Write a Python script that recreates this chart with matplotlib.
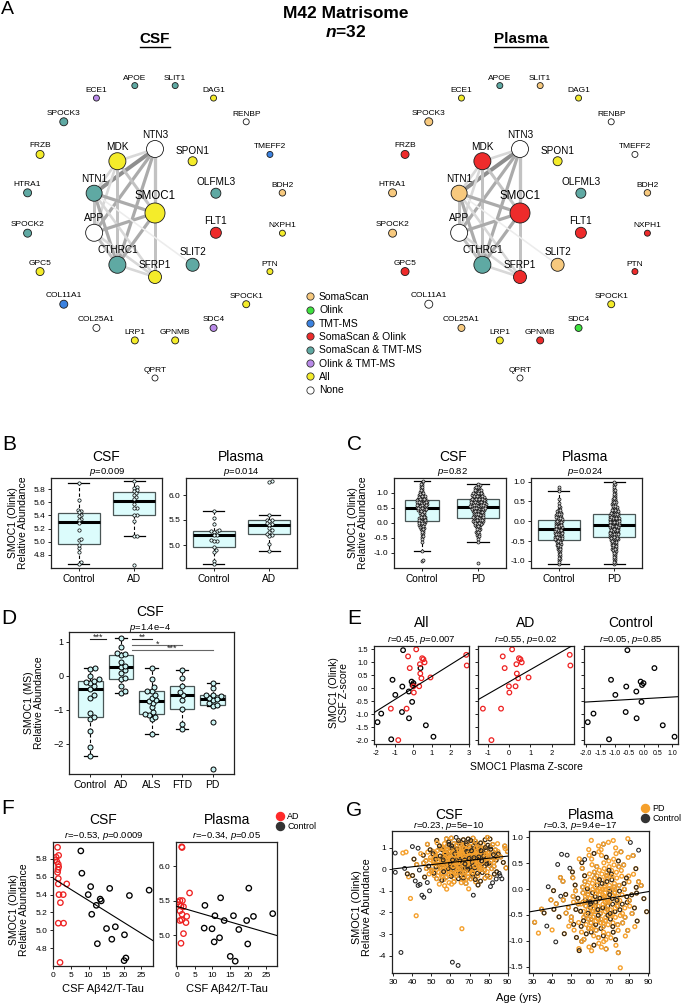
import numpy as np
import matplotlib.pyplot as plt
from matplotlib.lines import Line2D

plt.rcParams['font.family'] = ['Liberation Sans', 'DejaVu Sans']
plt.rcParams['axes.unicode_minus'] = False
plt.rcParams['mathtext.fontset'] = 'custom'
plt.rcParams['mathtext.rm'] = 'Liberation Sans'
plt.rcParams['mathtext.it'] = 'Liberation Sans:italic'
plt.rcParams['mathtext.bf'] = 'Liberation Sans:bold'
plt.rcParams['mathtext.bfit'] = 'Liberation Sans:italic:bold'

# ---------------- data ----------------
# network A: genes, node size (px) and detection category per fluid
outer_genes = ['SLIT1', 'DAG1', 'RENBP', 'TMEFF2', 'BDH2', 'NXPH1', 'PTN', 'SPOCK1', 'SDC4', 'GPNMB',
               'LRP1', 'COL25A1', 'COL11A1', 'GPC5', 'SPOCK2', 'HTRA1', 'FRZB', 'SPOCK3', 'ECE1', 'APOE']
inner_genes = ['NTN3', 'SPON1', 'OLFML3', 'FLT1', 'SLIT2', 'SFRP1', 'CTHRC1', 'APP', 'NTN1', 'MDK']
hub_gene = 'SMOC1'
far_gene = 'QPRT'

node_size = {'SMOC1': 20, 'NTN3': 17, 'MDK': 17, 'NTN1': 16, 'APP': 17, 'CTHRC1': 17, 'SFRP1': 13,
             'SLIT2': 13, 'FLT1': 11, 'OLFML3': 10, 'SPON1': 9, 'SPOCK3': 8, 'HTRA1': 8, 'SPOCK2': 8,
             'FRZB': 8, 'GPC5': 8, 'COL11A1': 8, 'COL25A1': 7, 'LRP1': 7, 'GPNMB': 7, 'SDC4': 7,
             'SPOCK1': 7, 'PTN': 6, 'NXPH1': 6, 'BDH2': 6.5, 'TMEFF2': 6, 'RENBP': 6, 'DAG1': 6,
             'SLIT1': 6, 'APOE': 6, 'ECE1': 6, 'QPRT': 6}

csf_cat = {'SLIT1': 'SomaScan & TMT-MS', 'DAG1': 'All', 'RENBP': 'None', 'TMEFF2': 'TMT-MS',
           'BDH2': 'SomaScan', 'NXPH1': 'All', 'PTN': 'All', 'SPOCK1': 'All', 'SDC4': 'Olink & TMT-MS',
           'GPNMB': 'All', 'LRP1': 'All', 'COL25A1': 'None', 'COL11A1': 'TMT-MS', 'GPC5': 'All',
           'SPOCK2': 'SomaScan & TMT-MS', 'HTRA1': 'SomaScan & TMT-MS', 'FRZB': 'All',
           'SPOCK3': 'SomaScan & TMT-MS', 'ECE1': 'Olink & TMT-MS', 'APOE': 'SomaScan & TMT-MS',
           'NTN3': 'None', 'SPON1': 'All', 'OLFML3': 'SomaScan & TMT-MS', 'FLT1': 'SomaScan & Olink',
           'SLIT2': 'SomaScan & TMT-MS', 'SFRP1': 'All', 'CTHRC1': 'SomaScan & TMT-MS', 'APP': 'None',
           'NTN1': 'SomaScan & TMT-MS', 'MDK': 'All', 'SMOC1': 'All', 'QPRT': 'None'}
plasma_cat = {'SLIT1': 'SomaScan', 'DAG1': 'All', 'RENBP': 'None', 'TMEFF2': 'None',
              'BDH2': 'SomaScan', 'NXPH1': 'SomaScan & Olink', 'PTN': 'SomaScan & Olink', 'SPOCK1': 'All',
              'SDC4': 'Olink', 'GPNMB': 'SomaScan & Olink', 'LRP1': 'All', 'COL25A1': 'SomaScan',
              'COL11A1': 'None', 'GPC5': 'SomaScan & Olink', 'SPOCK2': 'SomaScan', 'HTRA1': 'SomaScan',
              'FRZB': 'SomaScan & Olink', 'SPOCK3': 'SomaScan', 'ECE1': 'All', 'APOE': 'SomaScan & TMT-MS',
              'NTN3': 'None', 'SPON1': 'All', 'OLFML3': 'SomaScan & TMT-MS', 'FLT1': 'SomaScan & Olink',
              'SLIT2': 'SomaScan', 'SFRP1': 'SomaScan & Olink', 'CTHRC1': 'SomaScan & TMT-MS', 'APP': 'None',
              'NTN1': 'SomaScan', 'MDK': 'SomaScan & Olink', 'SMOC1': 'SomaScan & Olink', 'QPRT': 'None'}

edge_from = ['NTN3', 'NTN3', 'NTN3', 'NTN3', 'NTN3', 'NTN3', 'MDK', 'MDK', 'MDK', 'MDK', 'NTN1', 'NTN1',
             'NTN1', 'NTN1', 'APP', 'APP', 'APP', 'SMOC1', 'SMOC1', 'CTHRC1', 'NTN1']
edge_to = ['NTN1', 'MDK', 'SMOC1', 'APP', 'CTHRC1', 'SFRP1', 'NTN1', 'SMOC1', 'APP', 'CTHRC1', 'SMOC1', 'APP',
           'CTHRC1', 'SFRP1', 'SMOC1', 'CTHRC1', 'SFRP1', 'CTHRC1', 'SFRP1', 'SFRP1', 'SLIT2']
edge_weight = [3, 1, 2, 2, 2, 1.5, 1, 1.5, 1, 1.5, 2, 1.5, 2, 1, 2, 1.5, 1, 2, 1.5, 1, 0.5]

categories = ['SomaScan', 'Olink', 'TMT-MS', 'SomaScan & Olink', 'SomaScan & TMT-MS',
              'Olink & TMT-MS', 'All', 'None']
cat_colors = ['#f7c97e', '#3ee23e', '#3b82e0', '#ee2b2b', '#5fa9a3', '#b98ae8', '#f4ec2a', '#ffffff']

# B / F: SMOC1 (Olink) and CSF Ab42/T-Tau ratio
csf_ctl_ratio = [7.8, 8.1, 10.6, 9.9, 16.0, 13.3, 13.6, 12.2, 10.9, 15.1, 17.6, 16.6, 20.2, 12.5, 21.6, 27.2, 20.6, 20.1]
csf_ctl_smoc1 = [5.89, 5.64, 5.49, 5.40, 5.47, 5.35, 5.33, 5.28, 5.18, 5.02, 5.04, 4.90, 4.95, 4.85, 5.39, 5.45, 4.69, 4.66]
csf_ad_ratio = [1.2, 0.8, 1.5, 0.5, 1.0, 1.4, 1.5, 1.3, 1.2, 1.4, 1.4, 3.8, 1.6, 2.8, 2.0, 1.4, 2.9, 1.9]
csf_ad_smoc1 = [5.93, 5.82, 5.84, 5.79, 5.77, 5.74, 5.71, 5.68, 5.65, 5.58, 5.52, 5.52, 5.40, 5.40, 5.31, 5.08, 5.08, 4.64]
pl_ctl_ratio = [7.9, 12.3, 20.2, 10.7, 13.3, 15.9, 21.5, 26.9, 19.6, 7.7, 9.9, 17.4, 10.5, 12.0, 19.9, 15.0, 16.4]
pl_ctl_smoc1 = [5.43, 5.54, 5.68, 5.28, 5.21, 5.28, 5.27, 5.31, 5.21, 5.10, 5.09, 5.08, 4.90, 4.96, 4.87, 4.69, 4.62]
pl_ad_ratio = [1.4, 1.5, 3.6, 0.9, 1.6, 0.3, 0.7, 1.2, 1.9, 0.9, 1.5, 2.8, 1.4, 0.9, 2.6, 1.9, 1.2]
pl_ad_smoc1 = [6.28, 6.27, 5.61, 5.50, 5.50, 5.48, 5.44, 5.42, 5.41, 5.35, 5.30, 5.27, 5.22, 5.21, 5.18, 5.02, 4.88]

# C: PD cohort, counts of samples per 0.1 bin (bin centres listed)
c_csf_bins = [1.35, 1.25, 1.15, 1.05, 0.95, 0.85, 0.75, 0.65, 0.55, 0.45, 0.35, 0.25, 0.15, 0.05, -0.05,
              -0.15, -0.25, -0.35, -0.45, -0.55, -0.65, -0.75, -0.85, -0.95, -1.05, -1.15, -1.25, -1.35]
c_csf_ctl_n = [2, 3, 3, 4, 6, 8, 11, 12, 12, 10, 6, 5, 8, 9, 7, 5, 3, 3, 2, 1, 1, 0, 0, 1, 0, 0, 2, 0]
c_csf_pd_n = [0, 4, 6, 9, 12, 15, 17, 18, 18, 16, 12, 11, 12, 12, 8, 5, 4, 4, 2, 1, 1, 0, 0, 0, 0, 0, 0, 1]
c_pl_bins = [0.95, 0.85, 0.75, 0.65, 0.55, 0.45, 0.35, 0.25, 0.15, 0.05, -0.05, -0.15, -0.25, -0.35,
             -0.45, -0.55, -0.65, -0.75, -0.85, -0.95, -1.05]
c_pl_ctl_n = [0, 2, 1, 0, 1, 1, 3, 6, 9, 10, 11, 12, 12, 11, 10, 7, 6, 4, 3, 3, 2]
c_pl_pd_n = [3, 2, 3, 4, 5, 6, 8, 11, 13, 17, 17, 14, 15, 13, 11, 9, 7, 6, 4, 4, 3]

# D: SMOC1 (MS) in CSF across diagnoses
d_groups = ['Control', 'AD', 'ALS', 'FTD', 'PD']
d_control = [-2.37, -2.1, -1.62, -1.28, -1.2, -1.08, -0.66, -0.57, -0.38, -0.29, -0.21, -0.18, -0.15, -0.1, 0.0, 0.2, 0.22]
d_ad = [-0.51, -0.45, -0.29, -0.1, -0.06, 0.08, 0.16, 0.25, 0.3, 0.4, 0.6, 0.63, 0.67, 0.86, 1.1]
d_als = [-1.72, -1.27, -1.2, -1.15, -1.12, -1.06, -0.93, -0.8, -0.75, -0.72, -0.64, -0.55, -0.45, -0.44, -0.34, -0.1, 0.22]
d_ftd = [-1.58, -1.42, -0.98, -0.7, -0.57, -0.48, -0.3, -0.05, 0.17]
d_pd = [-2.75, -1.37, -0.88, -0.86, -0.8, -0.72, -0.68, -0.65, -0.6, -0.56, -0.55, -0.35, -0.2]
sig_from = [1.0, 2.37, 2.37, 2.37]
sig_to = [1.5, 3.0, 4.0, 5.0]
sig_y = [1.08, 1.08, 0.9, 0.76]
sig_label = ['***', '**', '*', '***']

# E: plasma vs CSF z-scores
e_ad_plasma = [0.15, -0.29, -0.2, 0.54, 0.47, 0.6, 0.35, 0.37, 0.43, 0.92, 0.31, 0.0, 0.02, -1.22, -0.37, -0.82, 2.85, 2.88]
e_ad_csf = [1.49, 1.22, 0.77, 1.11, 1.15, 0.99, 0.92, 0.56, 0.38, 0.41, 0.07, 0.07, -0.17, -0.79, -0.79, -2.0, 1.28, 0.87]
e_ctl_plasma = [-1.94, -1.74, -1.13, -0.98, -1.2, -0.56, -0.6, -0.62, -0.25, -0.24, -0.1, 0.0, -0.05, -0.07, 0.38, 0.67, 1.08]
e_ctl_csf = [-1.31, -0.98, 0.32, -0.26, -1.97, 1.46, 0.06, -0.92, -0.13, -1.16, 0.25, 0.19, 0.12, -0.53, 0.77, -1.43, -1.87]

# G: SMOC1 vs age, counts per 5-yr x 0.25 cell (rows top -> bottom)
g_age_edges = [30, 35, 40, 45, 50, 55, 60, 65, 70, 75, 80, 85]
g_csf_val_edges = [1.25, 1.0, 0.75, 0.5, 0.25, 0.0, -0.25, -0.5, -0.75, -1.0]
g_csf_pd = [[0, 0, 0, 0, 1, 2, 2, 3, 3, 2, 1, 0],
            [0, 0, 0, 1, 2, 4, 5, 6, 6, 4, 3, 1],
            [0, 1, 0, 2, 4, 7, 8, 9, 8, 6, 4, 2],
            [0, 0, 1, 2, 5, 8, 10, 11, 10, 7, 4, 2],
            [0, 0, 1, 3, 5, 9, 11, 12, 10, 7, 4, 1],
            [0, 0, 1, 2, 5, 8, 10, 10, 8, 6, 3, 1],
            [0, 1, 0, 2, 4, 6, 7, 7, 6, 4, 2, 0],
            [0, 0, 1, 1, 2, 4, 5, 5, 4, 2, 1, 0],
            [0, 0, 0, 0, 1, 2, 2, 3, 2, 1, 0, 0],
            [0, 0, 0, 0, 0, 1, 0, 1, 0, 0, 0, 0]]
g_csf_ctl = [[0, 0, 0, 0, 1, 2, 3, 3, 3, 2, 1, 0],
             [0, 0, 0, 1, 1, 3, 4, 5, 4, 3, 2, 1],
             [0, 0, 1, 1, 2, 4, 5, 6, 5, 4, 3, 1],
             [0, 0, 0, 1, 3, 4, 6, 6, 6, 4, 3, 2],
             [0, 0, 1, 2, 3, 5, 6, 7, 6, 4, 3, 1],
             [0, 1, 1, 2, 3, 4, 5, 6, 5, 4, 2, 1],
             [1, 1, 1, 1, 2, 3, 4, 4, 3, 3, 2, 1],
             [0, 0, 1, 1, 1, 2, 2, 3, 3, 2, 1, 1],
             [0, 0, 1, 1, 0, 1, 1, 1, 1, 1, 1, 0],
             [0, 0, 0, 0, 0, 0, 0, 0, 0, 0, 0, 0]]
g_csf_pd_age = [35, 39, 42, 66, 58, 38]
g_csf_pd_val = [0.75, -1.35, -2.15, -2.75, -0.92, -0.35]
g_csf_ctl_age = [31, 34, 61, 64, 40, 43, 44, 45, 46, 49, 72, 81, 86, 84]
g_csf_ctl_val = [0.75, -3.85, -4.3, -4.45, 1.05, -0.75, -0.7, -1.2, -1.3, -1.0, -1.2, -0.8, -0.3, -0.45]

g_pl_val_edges = [0.75, 0.5, 0.25, 0.0, -0.25, -0.5, -0.75, -1.0, -1.25]
g_pl_pd = [[0, 0, 0, 0, 0, 1, 2, 3, 2, 1, 0, 0],
           [0, 0, 0, 0, 1, 2, 3, 4, 3, 2, 1, 0],
           [0, 0, 0, 0, 1, 3, 5, 6, 5, 3, 2, 0],
           [0, 0, 1, 1, 2, 5, 7, 8, 6, 4, 2, 1],
           [0, 1, 1, 2, 3, 7, 9, 10, 8, 5, 3, 1],
           [1, 1, 2, 2, 4, 8, 10, 10, 8, 5, 3, 1],
           [1, 0, 1, 2, 3, 6, 8, 8, 6, 3, 2, 0],
           [0, 0, 1, 1, 2, 4, 5, 5, 4, 2, 0, 0],
           [0, 0, 0, 0, 1, 2, 3, 3, 2, 0, 0, 0]]
g_pl_ctl = [[0, 0, 0, 0, 0, 0, 0, 1, 0, 0, 1, 0],
            [0, 0, 0, 1, 0, 1, 1, 1, 1, 1, 1, 0],
            [0, 0, 1, 1, 1, 2, 2, 2, 2, 1, 1, 0],
            [0, 1, 1, 1, 2, 3, 3, 3, 3, 2, 2, 1],
            [0, 1, 2, 2, 3, 4, 4, 4, 4, 3, 3, 1],
            [1, 1, 2, 2, 3, 4, 5, 5, 4, 3, 2, 1],
            [1, 1, 1, 1, 2, 4, 5, 4, 3, 2, 1, 0],
            [0, 0, 0, 1, 1, 3, 3, 2, 2, 1, 0, 0],
            [0, 0, 0, 0, 1, 1, 1, 1, 1, 0, 0, 0]]
g_pl_pd_age = [75.5, 33, 54]
g_pl_pd_val = [-1.52, -0.85, -1.15]
g_pl_ctl_age = [42, 45, 57, 85]
g_pl_ctl_val = [-1.02, 0.67, 0.57, 0.75]

# ---------------- helpers ----------------
W, H = 685, 1006
fig = plt.figure(figsize=(W / 100, H / 100), dpi=100)


def add_ax(l, t, r, b):
    return fig.add_axes([l / W, 1 - b / H, (r - l) / W, (b - t) / H])


def ftext(x, y, s, **kw):
    kw.setdefault('ha', 'center')
    kw.setdefault('va', 'center')
    return fig.text(x / W, 1 - y / H, s, **kw)


def style_ax(ax, fs=6):
    for s in ax.spines.values():
        s.set_linewidth(0.9)
        s.set_color('#222222')
    ax.tick_params(length=2.5, width=0.7, labelsize=fs, pad=1.5, color='#222222')


def px_scale(ax):
    pos = ax.get_position()
    x0, x1 = ax.get_xlim()
    y0, y1 = ax.get_ylim()
    return pos.width * W / (x1 - x0), pos.height * H / (y1 - y0)


def swarm(vals, d, sx, sy):
    vals = np.asarray(vals, float)
    ys = vals * sy
    placed = []
    out = np.zeros(len(vals))
    for i in np.argsort(vals):
        y = ys[i]
        near = [(px, py) for px, py in placed if abs(py - y) < d]
        cands = [0.0]
        for px, py in near:
            dx = np.sqrt(d * d - (py - y) ** 2)
            cands += [px + dx, px - dx]
        cands.sort(key=abs)
        for c in cands:
            if all((c - px) ** 2 + (y - py) ** 2 >= d * d - 1e-6 for px, py in near):
                break
        placed.append((c, y))
        out[i] = c / sx
    return out


def expand_bins(centres, counts, step):
    vals = []
    for c, n in zip(centres, counts):
        vals += list(c - step / 2 + (np.arange(n) + 0.5) * step / max(n, 1))
    return vals


def boxswarm(ax, groups, widths, msize, mface, medge, dcoll, mlw=0.5):
    pos = np.arange(1, len(groups) + 1)
    ax.boxplot(groups, positions=pos, widths=widths, whis=1.5, patch_artist=True, showfliers=False,
               capwidths=[w * 0.5 for w in widths],
               medianprops=dict(color='black', lw=2.2),
               boxprops=dict(facecolor='#dcfcfc', edgecolor='#4a5656', lw=0.9),
               whiskerprops=dict(color='black', lw=0.8, ls=(0, (3, 2))),
               capprops=dict(color='black', lw=0.9))
    sx, sy = px_scale(ax)
    for p, g in zip(pos, groups):
        off = swarm(g, dcoll, sx, sy)
        ax.scatter(p + off, g, s=(msize * 0.72) ** 2, facecolors=mface, edgecolors=medge,
                   linewidths=mlw, zorder=3)


def cell_points(counts, age_edges, val_edges, aw, vh):
    xs, ys = [], []
    for r, row in enumerate(counts):
        for c, n in enumerate(row):
            k = np.arange(n) + r * 7 + c * 3
            fx = (0.5 + k * 0.7548776662) % 1
            fy = (0.5 + k * 0.5698402910) % 1
            xs += list(age_edges[c] + aw * fx)
            ys += list(val_edges[r] + vh * fy)
    return xs, ys


def fit_line(ax, x, y):
    a, b = np.polyfit(x, y, 1)
    x0, x1 = ax.get_xlim()
    ax.plot([x0, x1], [a * x0 + b, a * x1 + b], color='black', lw=0.8, zorder=4)


# ---------------- A: networks ----------------
net = add_ax(0, 0, 685, 405)
net.set_xlim(0, 685)
net.set_ylim(405, 0)
net.axis('off')
cmap = dict(zip(categories, cat_colors))


def layout(cx, cy):
    p = {hub_gene: (cx, cy), far_gene: (cx, cy + 165)}
    a = np.deg2rad(9 + 18 * np.arange(len(outer_genes)))
    for g, ang in zip(outer_genes, a):
        p[g] = (cx + 129 * np.sin(ang), cy - 129 * np.cos(ang))
    a = np.deg2rad(36 * np.arange(len(inner_genes)))
    for g, ang in zip(inner_genes, a):
        p[g] = (cx + 64 * np.sin(ang), cy - 64 * np.cos(ang))
    return p


edge_col = {3: '#8e8e8e', 2: '#ababab', 1.5: '#c2c2c2', 1: '#d8d8d8', 0.5: '#ececec'}
edge_lw = {3: 4.0, 2: 3.2, 1.5: 3.0, 1: 2.6, 0.5: 1.6}

for cx, cat in [(155, csf_cat), (520, plasma_cat)]:
    p = layout(cx, 213)
    for a, b, w in zip(edge_from, edge_to, edge_weight):
        net.plot([p[a][0], p[b][0]], [p[a][1], p[b][1]], color=edge_col[w], lw=edge_lw[w] * 0.72,
                 solid_capstyle='round', zorder=1)
    genes = list(p.keys())
    net.scatter([p[g][0] for g in genes], [p[g][1] for g in genes],
                s=[(node_size[g] * 0.72) ** 2 for g in genes],
                c=[cmap[cat[g]] for g in genes], edgecolors='#1a1a1a', linewidths=0.6, zorder=3)
    for g in genes:
        fs = 8.3 if g == hub_gene else (7.2 if g in inner_genes else 6.0)
        net.text(p[g][0], p[g][1] - node_size[g] / 2 - 1.0, g, ha='center', va='bottom', fontsize=fs,
                 zorder=4)

ftext(7.5, 10, 'A', fontsize=14)
ftext(346, 14, 'M42 Matrisome', fontsize=12.5, weight='bold')
ftext(346, 32, r'$\mathbfit{n}$=32', fontsize=12.5, weight='bold')
t_csf = ftext(155, 39, 'CSF', fontsize=11, weight='bold')
t_pl = ftext(521, 39, 'Plasma', fontsize=11, weight='bold')

handles = [Line2D([], [], marker='o', ls='', markerfacecolor=c, markeredgecolor='#333333',
                  markeredgewidth=0.6, markersize=5.2) for c in cat_colors]
fig.legend(handles, categories, loc='upper left', bbox_to_anchor=(306 / W, 1 - 292 / H), frameon=False,
           fontsize=7.5, handlelength=0.8, handletextpad=0.45, labelspacing=0.32, borderpad=0,
           borderaxespad=0)

# ---------------- B ----------------
ylab = 'SMOC1 (Olink)\nRelative Abundance'
ftext(9, 445, 'B', fontsize=15)
axb1 = add_ax(51, 478, 162, 568)
axb1.set_xlim(0.5, 2.5)
axb1.set_ylim(4.60, 5.97)
boxswarm(axb1, [csf_ctl_smoc1, csf_ad_smoc1], [0.76, 0.76], 3.3, '#e9ffff', 'black', 2.8)
axb1.set_yticks(np.arange(4.8, 5.81, 0.2))
axb1.set_yticklabels(['%.1f' % v for v in np.arange(4.8, 5.81, 0.2)])
axb2 = add_ax(186, 478, 297, 568)
axb2.set_xlim(0.5, 2.5)
axb2.set_ylim(4.54, 6.34)
boxswarm(axb2, [pl_ctl_smoc1, pl_ad_smoc1], [0.76, 0.76], 3.3, '#e9ffff', 'black', 2.8)
axb2.set_yticks([5.0, 5.5, 6.0])
axb2.set_yticklabels(['5.0', '5.5', '6.0'])
for ax, lab in [(axb1, ['Control', 'AD']), (axb2, ['Control', 'AD'])]:
    style_ax(ax)
    ax.set_xticks([1, 2])
    ax.set_xticklabels(lab, fontsize=7.3)
ftext(18, 523, ylab, rotation=90, fontsize=7.5, linespacing=1.05)
ftext(106.5, 457, 'CSF', fontsize=10)
ftext(241.5, 457, 'Plasma', fontsize=10)
ftext(107, 472.5, '$p$=0.009', fontsize=6.8)
ftext(241, 472.5, '$p$=0.014', fontsize=6.8)

# ---------------- C ----------------
ftext(355, 445, 'C', fontsize=15)
axc1 = add_ax(394, 478, 506, 568)
axc1.set_xlim(0.5, 2.5)
axc1.set_ylim(-1.5, 1.49)
boxswarm(axc1, [expand_bins(c_csf_bins, c_csf_ctl_n, 0.1), expand_bins(c_csf_bins, c_csf_pd_n, 0.1)],
         [0.6, 0.76], 3.0, '#d4d4d4', '#111111', 1.6)
axc2 = add_ax(531, 478, 642, 568)
axc2.set_xlim(0.5, 2.5)
axc2.set_ylim(-1.18, 1.09)
boxswarm(axc2, [expand_bins(c_pl_bins, c_pl_ctl_n, 0.1), expand_bins(c_pl_bins, c_pl_pd_n, 0.1)],
         [0.76, 0.76], 3.0, '#d4d4d4', '#111111', 1.6)
for ax in (axc1, axc2):
    style_ax(ax)
    ax.set_yticks([-1.0, -0.5, 0.0, 0.5, 1.0])
    ax.set_yticklabels(['-1.0', '-0.5', '0.0', '0.5', '1.0'])
    ax.set_xticks([1, 2])
    ax.set_xticklabels(['Control', 'PD'], fontsize=7.3)
ftext(358, 523, ylab, rotation=90, fontsize=7.5, linespacing=1.05)
ftext(453, 457, 'CSF', fontsize=10)
ftext(585, 457, 'Plasma', fontsize=10)
ftext(453, 472.5, '$p$=0.82', fontsize=6.8)
ftext(585, 472.5, '$p$=0.024', fontsize=6.8)

# ---------------- D ----------------
ftext(9, 618, 'D', fontsize=15)
axd = add_ax(69, 632, 234, 774)
axd.set_xlim(0.3, 5.7)
axd.set_ylim(-2.89, 1.29)
boxswarm(axd, [d_control, d_ad, d_als, d_ftd, d_pd], [0.8] * 5, 5.0, '#c9f2f2', 'black', 4.6, mlw=0.7)
style_ax(axd, 6.5)
axd.set_yticks([-2, -1, 0, 1])
axd.set_yticklabels(['\u22122', '\u22121', '0', '1'])
axd.set_xticks(np.arange(1, 6))
axd.set_xticklabels(d_groups, fontsize=7.5)
for x0, x1, y, lab, i in zip(sig_from, sig_to, sig_y, sig_label, range(4)):
    col = '#222222' if i < 2 else '#666666'
    axd.plot([x0, x1], [y, y], color=col, lw=0.8)
    axd.text((x0 + x1) / 2, y - 0.09, lab, ha='center', va='bottom', fontsize=6.5, color='#222222')
ftext(34, 703, 'SMOC1 (MS)\nRelative Abundance', rotation=90, fontsize=7.5, linespacing=1.05)
ftext(150, 612.5, 'CSF', fontsize=10)
ftext(150, 627.5, '$p$=1.4e\u22124', fontsize=6.8)

# ---------------- E ----------------
red = '#ee2222'
ftext(354, 618, 'E', fontsize=15)
axe1 = add_ax(374, 646, 469, 744)
axe2 = add_ax(478, 646, 574, 744)
axe3 = add_ax(584, 646, 678, 744)
axe1.set_xlim(-2.13, 3.0)
axe2.set_xlim(-1.45, 3.05)
axe3.set_xlim(-2.07, 1.2)
for ax in (axe1, axe2, axe3):
    ax.set_ylim(-2.15, 1.62)
    style_ax(ax, 5.5)
    ax.set_yticks(np.arange(-2.0, 1.51, 0.5))
s_e = (4.6 * 0.72) ** 2
axe1.scatter(e_ctl_plasma, e_ctl_csf, s=s_e, facecolors='none', edgecolors='black', linewidths=0.9)
axe1.scatter(e_ad_plasma, e_ad_csf, s=s_e, facecolors='none', edgecolors=red, linewidths=0.9)
fit_line(axe1, e_ctl_plasma + e_ad_plasma, e_ctl_csf + e_ad_csf)
axe2.scatter(e_ad_plasma, e_ad_csf, s=s_e, facecolors='none', edgecolors=red, linewidths=0.9)
fit_line(axe2, e_ad_plasma, e_ad_csf)
axe3.scatter(e_ctl_plasma, e_ctl_csf, s=s_e, facecolors='none', edgecolors='black', linewidths=0.9)
fit_line(axe3, e_ctl_plasma, e_ctl_csf)
axe1.set_yticklabels(['%.1f' % v for v in np.arange(-2.0, 1.51, 0.5)])
axe2.set_yticklabels([])
axe3.set_yticklabels([])
axe1.set_xticks([-2, -1, 0, 1, 2, 3])
axe2.set_xticks([-1, 0, 1, 2])
axe3.set_xticks([-2.0, -1.5, -1.0, -0.5, 0.0, 0.5, 1.0])
axe3.set_xticklabels(['-2.0', '-1.5', '-1.0', '-0.5', '0.0', '0.5', '1.0'], fontsize=5)
ftext(339, 693, 'SMOC1 (Olink)\nCSF Z-score', rotation=90, fontsize=7.5, linespacing=1.05)
ftext(526.5, 767, 'SMOC1 Plasma Z-score', fontsize=7.5)
for x, t, st in [(421.5, 'All', '$r$=0.45, $p$=0.007'), (526, 'AD', '$r$=0.55, $p$=0.02'),
                 (631, 'Control', '$r$=0.05, $p$=0.85')]:
    ftext(x, 623, t, fontsize=10)
    ftext(x, 639.5, st, fontsize=6.8)

# ---------------- F ----------------
ftext(8, 808, 'F', fontsize=15)
axf1 = add_ax(53, 842, 153, 966)
axf2 = add_ax(176, 842, 277, 966)
axf1.set_xlim(-0.1, 28.3)
axf1.set_ylim(4.60, 5.99)
axf2.set_xlim(-0.2, 28.1)
axf2.set_ylim(4.55, 6.35)
s_f = (5.4 * 0.72) ** 2
for ax, cr, cy, ar, ay in [(axf1, csf_ctl_ratio, csf_ctl_smoc1, csf_ad_ratio, csf_ad_smoc1),
                           (axf2, pl_ctl_ratio, pl_ctl_smoc1, pl_ad_ratio, pl_ad_smoc1)]:
    style_ax(ax, 6)
    ax.scatter(cr, cy, s=s_f, facecolors='none', edgecolors='black', linewidths=0.95)
    ax.scatter(ar, ay, s=s_f, facecolors='none', edgecolors=red, linewidths=0.95)
    fit_line(ax, cr + ar, cy + ay)
    ax.set_xticks(np.arange(0, 26, 5))
axf1.set_yticks(np.arange(4.8, 5.81, 0.2))
axf1.set_yticklabels(['%.1f' % v for v in np.arange(4.8, 5.81, 0.2)])
axf2.set_yticks([5.0, 5.5, 6.0])
axf2.set_yticklabels(['5.0', '5.5', '6.0'])
ftext(19, 910, ylab, rotation=90, fontsize=7.5, linespacing=1.05)
ftext(103, 819.5, 'CSF', fontsize=10)
ftext(227, 819.5, 'Plasma', fontsize=10)
ftext(104, 836.5, '$r$=\u22120.53, $p$=0.0009', fontsize=6.8)
ftext(226, 836.5, '$r$=\u22120.34, $p$=0.05', fontsize=6.8)
ftext(103, 988.5, 'CSF A\u03b242/T-Tau', fontsize=8)
ftext(227, 988.5, 'CSF A\u03b242/T-Tau', fontsize=8)
fh = [Line2D([], [], marker='o', ls='', color=c, markersize=5.8) for c in ['#ff2a2a', '#333333']]
fig.legend(fh, ['AD', 'Control'], loc='upper left', bbox_to_anchor=(276 / W, 1 - 812 / H), frameon=False,
           fontsize=6.5, handlelength=0.9, handletextpad=0.35, labelspacing=0.15, borderpad=0,
           borderaxespad=0)

# ---------------- G ----------------
orange = '#f5a02c'
ftext(354, 810, 'G', fontsize=15)
axg1 = add_ax(392, 831, 508, 973)
axg2 = add_ax(529, 831, 649, 973)
axg1.set_xlim(29.3, 90.2)
axg1.set_ylim(-4.8, 1.77)
axg2.set_xlim(28.1, 90.4)
axg2.set_ylim(-1.62, 1.12)
s_g = (3.8 * 0.72) ** 2
for ax, ve, vh, pdc, ctc, pa, pv, ca, cv in [
        (axg1, g_csf_val_edges, 0.25, g_csf_pd, g_csf_ctl, g_csf_pd_age, g_csf_pd_val, g_csf_ctl_age, g_csf_ctl_val),
        (axg2, g_pl_val_edges, 0.25, g_pl_pd, g_pl_ctl, g_pl_pd_age, g_pl_pd_val, g_pl_ctl_age, g_pl_ctl_val)]:
    style_ax(ax, 6)
    px_, py_ = cell_points(pdc, g_age_edges, ve, 5, vh)
    cx_, cy_ = cell_points(ctc, g_age_edges, ve, 5, vh)
    px_ += pa
    py_ += pv
    cx_ += ca
    cy_ += cv
    # draw both groups in one shuffled layer so neither hides the other
    xs = np.array(px_ + cx_)
    ys = np.array(py_ + cy_)
    cols = [orange] * len(px_) + ['#222222'] * len(cx_)
    lws = [1.0] * len(px_) + [0.75] * len(cx_)
    key = np.concatenate([(np.arange(len(px_)) * 0.6180339887) % 1,
                          (np.arange(len(cx_)) * 0.4142135624 + 0.3) % 1])
    order = np.argsort(key, kind='stable')
    ax.scatter(xs[order], ys[order], s=s_g, facecolors='none', edgecolors=[cols[i] for i in order],
               linewidths=[lws[i] for i in order], zorder=2)
    fit_line(ax, xs, ys)
    ax.set_xticks(np.arange(30, 91, 10))
axg1.set_yticks([-4, -3, -2, -1, 0, 1])
axg2.set_yticks([-1.5, -1.0, -0.5, 0.0, 0.5, 1.0])
axg2.set_yticklabels(['-1.5', '-1.0', '-0.5', '0.0', '0.5', '1.0'])
ftext(362, 907, ylab, rotation=90, fontsize=7.8, linespacing=1.05)
ftext(449, 815, 'CSF', fontsize=10)
ftext(591, 815, 'Plasma', fontsize=10)
ftext(449, 826.5, '$r$=0.23, $p$=5e\u221210', fontsize=6.8)
ftext(580, 826.5, '$r$=0.3, $p$=9.4e\u221217', fontsize=6.8)
ftext(519, 998, 'Age (yrs)', fontsize=8)
gh = [Line2D([], [], marker='o', ls='', color=c, markersize=5.8) for c in [orange, '#333333']]
fig.legend(gh, ['PD', 'Control'], loc='upper left', bbox_to_anchor=(641 / W, 1 - 804 / H), frameon=False,
           fontsize=6.5, handlelength=0.9, handletextpad=0.35, labelspacing=0.15, borderpad=0,
           borderaxespad=0)

# underline network titles
fig.canvas.draw()
for t in (t_csf, t_pl):
    bb = t.get_window_extent()
    yy = (bb.y0 - 0.5) / H
    fig.add_artist(Line2D([bb.x0 / W, bb.x1 / W], [yy, yy], color='black', lw=1.0,
                          transform=fig.transFigure))

fig.savefig('out.png', dpi=100)
